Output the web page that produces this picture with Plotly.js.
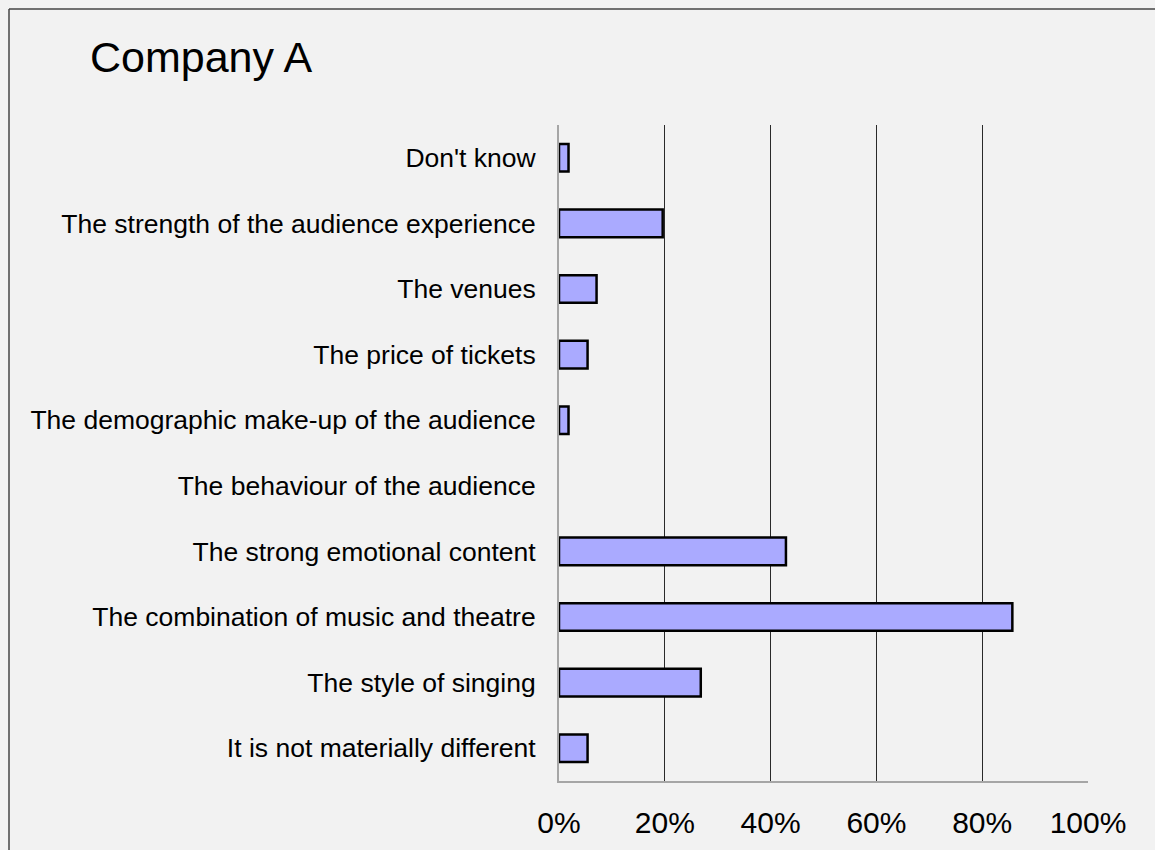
<!DOCTYPE html>
<html>
<head>
<meta charset="utf-8">
<script src="https://cdn.plot.ly/plotly-3.0.1.min.js"></script>
<style>
  html, body { margin: 0; padding: 0; background: #f2f2f2; }
  #chart { width: 1155px; height: 850px; }
</style>
</head>
<body>
<div id="chart"></div>
<script>
const categories = [
  "Don't know",
  "The strength of the audience experience",
  "The venues",
  "The price of tickets",
  "The demographic make-up of the audience",
  "The behaviour of the audience",
  "The strong emotional content",
  "The combination of music and theatre",
  "The style of singing",
  "It is not materially different"
];
const values = [1.8, 19.6, 7.1, 5.4, 1.8, 0, 42.9, 85.7, 26.8, 5.4];
const xTicks = [0, 20, 40, 60, 80, 100];
const chartTitle = "Company A";

const trace = {
  type: 'bar',
  orientation: 'h',
  y: categories,
  x: values,
  width: 0.42,
  marker: {
    color: '#aaaaff',
    line: { color: '#000000', width: values.map(v => (v > 0 ? 2.5 : 0)) }
  },
  hoverinfo: 'x+y'
};

const layout = {
  width: 1155,
  height: 850,
  paper_bgcolor: '#f2f2f2',
  plot_bgcolor: '#f2f2f2',
  margin: { l: 559, r: 67, t: 125, b: 69, pad: 0 },
  showlegend: false,
  font: { family: 'Liberation Sans, Arial, sans-serif', color: '#000' },
  title: {
    text: chartTitle,
    font: { size: 43, color: '#000', family: 'Liberation Sans, Arial, sans-serif' },
    x: 90 / 1155, xref: 'container', xanchor: 'left',
    y: 1 - 57 / 850, yref: 'container', yanchor: 'middle'
  },
  xaxis: {
    range: [0, 100],
    tickvals: xTicks,
    ticktext: xTicks.map(v => v + '%'),
    tickfont: { size: 30, color: '#000' },
    ticks: '',
    ticklabelstandoff: 14,
    showgrid: true,
    gridcolor: '#2a2a2a',
    gridwidth: 1,
    zeroline: false,
    showline: true,
    linecolor: '#a6a6a6',
    linewidth: 2,
    fixedrange: true
  },
  yaxis: {
    autorange: 'reversed',
    type: 'category',
    tickfont: { size: 26.5, color: '#000' },
    ticks: '',
    ticklabelstandoff: 16,
    showgrid: false,
    zeroline: false,
    showline: true,
    linecolor: '#a6a6a6',
    linewidth: 2,
    fixedrange: true
  },
  shapes: [
    { type: 'line', xref: 'paper', yref: 'paper',
      x0: (9 - 559) / 529, x1: (1160 - 559) / 529,
      y0: (850 - 69 - 9) / 656, y1: (850 - 69 - 9) / 656,
      line: { color: '#444444', width: 1.5 } },
    { type: 'line', xref: 'paper', yref: 'paper',
      x0: (9 - 559) / 529, x1: (9 - 559) / 529,
      y0: (850 - 69 - 9) / 656, y1: (850 - 69 - 860) / 656,
      line: { color: '#444444', width: 1.5 } }
  ]
};

Plotly.newPlot('chart', [trace], layout, { displayModeBar: false, staticPlot: true });
</script>
</body>
</html>
